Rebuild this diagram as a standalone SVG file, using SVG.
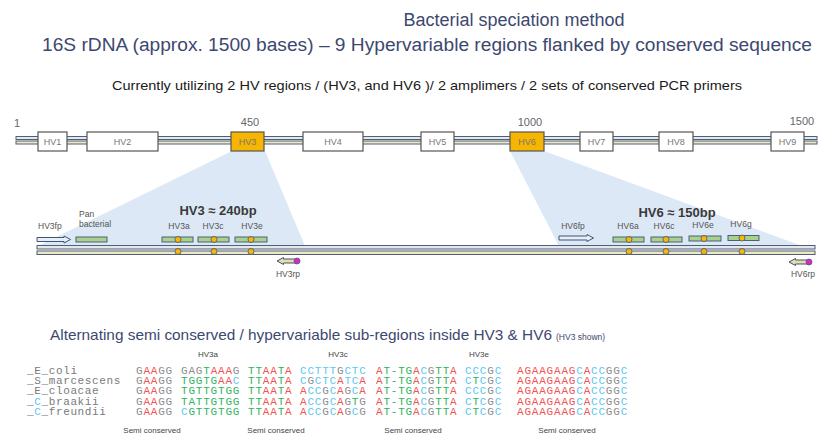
<svg xmlns="http://www.w3.org/2000/svg" width="822" height="444" viewBox="0 0 822 444">
<style>
text{font-family:"Liberation Sans","DejaVu Sans",sans-serif}
.title{font-size:18px;fill:#3d4870}
.sub{font-size:13px;fill:#1a1a1a}
.pos{font-size:11px;fill:#666}
.box{fill:#fff;stroke:#555;stroke-width:1.2}
.boxo{fill:#f6b500;stroke:#555;stroke-width:1.2}
.bl{font-size:9px;fill:#777;text-anchor:middle}
.s1{fill:#e4e9ef;stroke:#4f5f78;stroke-width:1}
.s2{fill:#efe8c4;stroke:#4f5f78;stroke-width:1}
.fan{fill:#d6e4f3;opacity:0.85}
.lab{font-size:8.5px;fill:#555}
.labc{font-size:8.5px;fill:#555;text-anchor:middle}
.big{font-size:13px;font-weight:bold;fill:#3a3a3a;text-anchor:middle}
.gbar{fill:#a9d18e;stroke:#4f5f78;stroke-width:1}
.dot{fill:#f6b800;stroke:#4f5f78;stroke-width:0.9}
.mag{fill:#e022c8;stroke:#4f5f78;stroke-width:0.8}
.fp{fill:#e9eef5;stroke:#3f5575;stroke-width:1}
.rp{fill:#e8dcaa;stroke:#3f5575;stroke-width:1}
.hdr{font-size:15px;fill:#3d4870}
.name{font-family:"Liberation Mono","DejaVu Sans Mono",monospace;font-size:11px;letter-spacing:0.63px;fill:#7a7a7a}
.seq{font-family:"Liberation Mono","DejaVu Sans Mono",monospace;font-size:11px;letter-spacing:0.8px}
.a{fill:#f05454}.t{fill:#2fb45f}.g{fill:#8c8c8c}.c{fill:#5cc8f2}
.small{font-size:8px;fill:#444;text-anchor:middle}
</style>

<g id="titles">
<text class="title" x="514" y="26" text-anchor="middle">Bacterial speciation method</text>
<text class="title" x="42" y="51" textLength="770" lengthAdjust="spacingAndGlyphs">16S rDNA (approx. 1500 bases) – 9 Hypervariable regions flanked by conserved sequence</text>
<text class="sub" x="112" y="90" textLength="630" lengthAdjust="spacingAndGlyphs">Currently utilizing 2 HV regions / (HV3, and HV6 )/ 2 amplimers / 2 sets of conserved PCR primers</text>
</g>

<g id="connectors">
<polygon class="fan" points="232,151 265,151 305,246 38,246"/>
<polygon class="fan" points="510,151 544,151 802,246 559,246"/>
</g>

<g id="genome-bar">
<rect class="s1" x="16" y="136.5" width="801" height="3"/>
<rect class="s2" x="16" y="141" width="801" height="3"/>
<text class="pos" x="14" y="127">1</text>
<text class="pos" x="250" y="126" text-anchor="middle">450</text>
<text class="pos" x="530" y="126" text-anchor="middle">1000</text>
<text class="pos" x="802" y="125" text-anchor="middle">1500</text>
</g>

<g id="HV1"><rect class="box" x="38" y="132" width="29" height="19"/><text class="bl" x="52.5" y="144.5">HV1</text></g>
<g id="HV2"><rect class="box" x="87" y="132" width="71" height="19"/><text class="bl" x="122.5" y="144.5">HV2</text></g>
<g id="HV3"><rect class="boxo" x="231" y="132" width="33" height="19"/><text class="bl" x="247.5" y="144.5">HV3</text></g>
<g id="HV4"><rect class="box" x="303" y="132" width="60" height="19"/><text class="bl" x="333" y="144.5">HV4</text></g>
<g id="HV5"><rect class="box" x="421" y="132" width="33" height="19"/><text class="bl" x="437.5" y="144.5">HV5</text></g>
<g id="HV6"><rect class="boxo" x="510" y="132" width="34" height="19"/><text class="bl" x="527" y="144.5">HV6</text></g>
<g id="HV7"><rect class="box" x="580" y="132" width="33" height="19"/><text class="bl" x="596.5" y="144.5">HV7</text></g>
<g id="HV8"><rect class="box" x="659" y="132" width="34" height="19"/><text class="bl" x="676" y="144.5">HV8</text></g>
<g id="HV9"><rect class="box" x="771" y="132" width="33" height="19"/><text class="bl" x="787.5" y="144.5">HV9</text></g>

<g id="amplicon-line">
<rect class="s1" x="37" y="245.5" width="778" height="3.5"/>
<rect class="s2" x="37" y="251" width="778" height="3.5"/>
</g>

<g id="HV3-detail">
<text class="big" x="218" y="215">HV3 ≈ 240bp</text>
</g>
<g id="HV3fp">
<text class="lab" x="38" y="229">HV3fp</text>
<polygon class="fp" points="37,237.5 64,237.5 64,236 70.5,239.5 64,243 64,241.5 37,241.5"/>
</g>
<g id="pan-bacterial">
<text class="lab" x="79" y="217">Pan</text>
<text class="lab" x="79" y="227">bacterial</text>
<rect class="gbar" x="76" y="237" width="31" height="5"/>
</g>
<g id="HV3a">
<text class="labc" x="179" y="229">HV3a</text>
<rect class="gbar" x="162" y="237" width="31" height="5"/>
<circle class="dot" cx="178" cy="239.5" r="3"/>
<circle class="dot" cx="178" cy="251.5" r="3"/>
</g>
<g id="HV3c">
<text class="labc" x="213" y="229">HV3c</text>
<rect class="gbar" x="198" y="237" width="31" height="5"/>
<circle class="dot" cx="214" cy="239.5" r="3"/>
<circle class="dot" cx="214" cy="251.5" r="3"/>
</g>
<g id="HV3e">
<text class="labc" x="252" y="229">HV3e</text>
<rect class="gbar" x="235" y="237" width="32" height="5"/>
<circle class="dot" cx="251" cy="239.5" r="3"/>
<circle class="dot" cx="251" cy="251.5" r="3"/>
</g>
<g id="HV3rp">
<polygon class="rp" points="297,259 283.5,259 283.5,257.5 277,261 283.5,264.5 283.5,263 297,263"/>
<circle class="mag" cx="297" cy="261" r="3"/>
<text class="labc" x="288" y="277">HV3rp</text>
</g>

<g id="HV6-detail">
<text class="big" x="677" y="217">HV6 ≈ 150bp</text>
</g>
<g id="HV6fp">
<text class="labc" x="573" y="229">HV6fp</text>
<polygon class="fp" points="559,236 587,236 587,234.5 593.5,238 587,241.5 587,240 559,240"/>
</g>
<g id="HV6a">
<text class="labc" x="628" y="229">HV6a</text>
<rect class="gbar" x="613" y="237" width="31" height="5"/>
<circle class="dot" cx="629" cy="239.5" r="3"/>
<circle class="dot" cx="629" cy="251.5" r="3"/>
</g>
<g id="HV6c">
<text class="labc" x="664" y="229">HV6c</text>
<rect class="gbar" x="651" y="237" width="31" height="5"/>
<circle class="dot" cx="666" cy="239.5" r="3"/>
<circle class="dot" cx="666" cy="251.5" r="3"/>
</g>
<g id="HV6e">
<text class="labc" x="703" y="228">HV6e</text>
<rect class="gbar" x="689" y="236" width="32" height="5"/>
<circle class="dot" cx="704" cy="238.5" r="3"/>
<circle class="dot" cx="704" cy="251.5" r="3"/>
</g>
<g id="HV6g">
<text class="labc" x="741" y="227">HV6g</text>
<rect class="gbar" x="728" y="235.5" width="31" height="5"/>
<circle class="dot" cx="742" cy="238" r="3"/>
<circle class="dot" cx="742" cy="251.5" r="3"/>
</g>
<g id="HV6rp">
<polygon class="rp" points="809,260 795.5,260 795.5,258.5 789,262 795.5,265.5 795.5,264 809,264"/>
<circle class="mag" cx="809" cy="262" r="3"/>
<text class="labc" x="803" y="277">HV6rp</text>
</g>

<g id="alignment">
<text class="hdr" x="50" y="340" textLength="502" lengthAdjust="spacingAndGlyphs">Alternating semi conserved / hypervariable sub-regions inside HV3 &amp; HV6</text>
<text x="556" y="340" font-size="8.5" fill="#3d4870">(HV3 shown)</text>
<text class="small" x="208" y="357">HV3a</text>
<text class="small" x="338" y="357">HV3c</text>
<text class="small" x="479" y="357">HV3e</text>

<text class="name" x="27" y="374">_E_coli</text>
<text class="name" x="27" y="384.2">_S_marcescens</text>
<text class="name" x="27" y="394.4">_E_cloacae</text>
<text class="name" x="27" y="404.6">_<tspan class="c">C</tspan>_braakii</text>
<text class="name" x="27" y="414.8">_<tspan class="c">C</tspan>_freundii</text>

<text class="seq" y="374"><tspan x="136" class="g">G</tspan><tspan class="a">AA</tspan><tspan class="g">GG</tspan><tspan x="181" class="g">GAG</tspan><tspan class="t">T</tspan><tspan class="a">AAA</tspan><tspan class="g">G</tspan><tspan x="248" class="t">TT</tspan><tspan class="a">AA</tspan><tspan class="t">T</tspan><tspan class="a">A</tspan><tspan x="300" class="c">CCTTT</tspan><tspan class="g">G</tspan><tspan class="c">CTC</tspan><tspan x="376" class="a">A</tspan><tspan class="t">T-TG</tspan><tspan class="a">A</tspan><tspan class="c">C</tspan><tspan class="g">G</tspan><tspan class="t">TT</tspan><tspan class="a">A</tspan><tspan x="465" class="c">CCC</tspan><tspan class="g">G</tspan><tspan class="c">C</tspan><tspan x="517" class="a">AGAAGAAG</tspan><tspan class="c">C</tspan><tspan class="a">A</tspan><tspan class="c">CC</tspan><tspan class="g">GG</tspan><tspan class="c">C</tspan></text>

<text class="seq" y="384.2"><tspan x="136" class="g">G</tspan><tspan class="a">AA</tspan><tspan class="g">GG</tspan><tspan x="181" class="t">TGGTG</tspan><tspan class="a">AA</tspan><tspan class="c">C</tspan><tspan x="248" class="t">TT</tspan><tspan class="a">AA</tspan><tspan class="t">T</tspan><tspan class="a">A</tspan><tspan x="300" class="c">C</tspan><tspan class="g">G</tspan><tspan class="c">CTC</tspan><tspan class="a">A</tspan><tspan class="c">TC</tspan><tspan class="a">A</tspan><tspan x="376" class="a">A</tspan><tspan class="t">T-TG</tspan><tspan class="a">A</tspan><tspan class="c">C</tspan><tspan class="g">G</tspan><tspan class="t">TT</tspan><tspan class="a">A</tspan><tspan x="465" class="c">C</tspan><tspan class="t">T</tspan><tspan class="c">C</tspan><tspan class="g">G</tspan><tspan class="c">C</tspan><tspan x="517" class="a">AGAAGAAG</tspan><tspan class="c">C</tspan><tspan class="a">A</tspan><tspan class="c">CC</tspan><tspan class="g">GG</tspan><tspan class="c">C</tspan></text>

<text class="seq" y="394.4"><tspan x="136" class="g">G</tspan><tspan class="a">AA</tspan><tspan class="g">GG</tspan><tspan x="181" class="t">TGTTGTGG</tspan><tspan x="248" class="t">TT</tspan><tspan class="a">AA</tspan><tspan class="t">T</tspan><tspan class="a">A</tspan><tspan x="300" class="a">A</tspan><tspan class="c">CC</tspan><tspan class="g">G</tspan><tspan class="c">C</tspan><tspan class="a">A</tspan><tspan class="g">G</tspan><tspan class="c">C</tspan><tspan class="a">A</tspan><tspan x="376" class="a">A</tspan><tspan class="t">T-TG</tspan><tspan class="a">A</tspan><tspan class="c">C</tspan><tspan class="g">G</tspan><tspan class="t">TT</tspan><tspan class="a">A</tspan><tspan x="465" class="c">CCC</tspan><tspan class="g">G</tspan><tspan class="c">C</tspan><tspan x="517" class="a">AGAAGAAG</tspan><tspan class="c">C</tspan><tspan class="a">A</tspan><tspan class="c">CC</tspan><tspan class="g">GG</tspan><tspan class="c">C</tspan></text>

<text class="seq" y="404.6"><tspan x="136" class="g">G</tspan><tspan class="a">AA</tspan><tspan class="g">GG</tspan><tspan x="181" class="t">TATTGTGG</tspan><tspan x="248" class="t">TT</tspan><tspan class="a">AA</tspan><tspan class="t">T</tspan><tspan class="a">A</tspan><tspan x="300" class="a">A</tspan><tspan class="c">CC</tspan><tspan class="g">G</tspan><tspan class="c">C</tspan><tspan class="a">A</tspan><tspan class="g">G</tspan><tspan class="t">T</tspan><tspan class="g">G</tspan><tspan x="376" class="a">A</tspan><tspan class="t">T-TG</tspan><tspan class="a">A</tspan><tspan class="c">C</tspan><tspan class="g">G</tspan><tspan class="t">TT</tspan><tspan class="a">A</tspan><tspan x="465" class="c">C</tspan><tspan class="t">T</tspan><tspan class="c">C</tspan><tspan class="g">G</tspan><tspan class="c">C</tspan><tspan x="517" class="a">AGAAGAAG</tspan><tspan class="c">C</tspan><tspan class="a">A</tspan><tspan class="c">CC</tspan><tspan class="g">GG</tspan><tspan class="c">C</tspan></text>

<text class="seq" y="414.8"><tspan x="136" class="g">G</tspan><tspan class="a">AA</tspan><tspan class="g">GG</tspan><tspan x="181" class="c">C</tspan><tspan class="t">GTTGTGG</tspan><tspan x="248" class="t">TT</tspan><tspan class="a">AA</tspan><tspan class="t">T</tspan><tspan class="a">A</tspan><tspan x="300" class="a">A</tspan><tspan class="c">CC</tspan><tspan class="g">G</tspan><tspan class="c">C</tspan><tspan class="a">A</tspan><tspan class="g">G</tspan><tspan class="c">C</tspan><tspan class="g">G</tspan><tspan x="376" class="a">A</tspan><tspan class="t">T-TG</tspan><tspan class="a">A</tspan><tspan class="c">C</tspan><tspan class="g">G</tspan><tspan class="t">TT</tspan><tspan class="a">A</tspan><tspan x="465" class="c">C</tspan><tspan class="t">T</tspan><tspan class="c">C</tspan><tspan class="g">G</tspan><tspan class="c">C</tspan><tspan x="517" class="a">AGAAGAAG</tspan><tspan class="c">C</tspan><tspan class="a">A</tspan><tspan class="c">CC</tspan><tspan class="g">GG</tspan><tspan class="c">C</tspan></text>

<text class="small" x="152" y="433">Semi conserved</text>
<text class="small" x="276" y="433">Semi conserved</text>
<text class="small" x="413" y="433">Semi conserved</text>
<text class="small" x="567" y="433">Semi conserved</text>
</g>
</svg>
